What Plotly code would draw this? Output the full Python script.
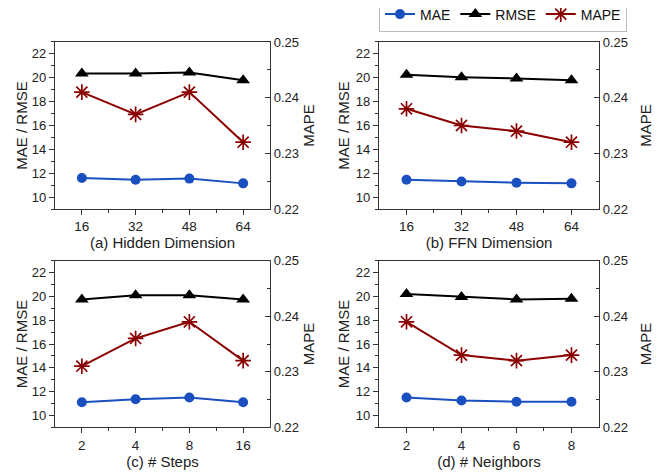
import plotly.graph_objects as go

# ---------------- data ----------------
hidden_dim = [16, 32, 48, 64]
hidden_mae = [11.6, 11.45, 11.55, 11.15]
hidden_rmse = [20.35, 20.35, 20.45, 19.8]
hidden_mape = [0.241, 0.237, 0.241, 0.232]

ffn_dim = [16, 32, 48, 64]
ffn_mae = [11.45, 11.3, 11.2, 11.15]
ffn_rmse = [20.25, 20.05, 19.95, 19.8]
ffn_mape = [0.238, 0.235, 0.234, 0.232]

steps = ["2", "4", "8", "16"]
steps_mae = [11.1, 11.35, 11.5, 11.1]
steps_rmse = [19.75, 20.1, 20.1, 19.75]
steps_mape = [0.231, 0.236, 0.239, 0.232]

neighbors = [2, 4, 6, 8]
neigh_mae = [11.5, 11.25, 11.15, 11.15]
neigh_rmse = [20.2, 19.95, 19.75, 19.8]
neigh_mape = [0.239, 0.233, 0.232, 0.233]

titles = ["(a) Hidden Dimension", "(b) FFN Dimension", "(c) # Steps", "(d) # Neighbors"]

# ---------------- style ----------------
FONT = "Liberation Sans, Arial, sans-serif"
BLUE = "#1a4fc0"
BLACK = "#000000"
RED = "#8b0000"
AX = "#333333"

# page body has an 8px margin, so the figure is sized to fit inside the window
W, H = 657, 465

xdoms = [[0.0715, 0.3988], [0.5647, 0.8995], [0.0715, 0.3988], [0.5647, 0.8995]]
ydoms = [[0.5677, 0.9269], [0.5677, 0.9269], [0.0983, 0.4565], [0.0983, 0.4565]]
right_standoff = [5, 13, 5, 13]
left_standoff = [0, 2, 0, 2]

steps_pos = list(range(len(steps)))
panels = [
    (hidden_dim, hidden_mae, hidden_rmse, hidden_mape, dict(range=[8, 72], tickvals=hidden_dim, minor=dict(tickvals=[24, 40, 56]))),
    (ffn_dim, ffn_mae, ffn_rmse, ffn_mape, dict(range=[8, 72], tickvals=ffn_dim, minor=dict(tickvals=[24, 40, 56]))),
    (steps_pos, steps_mae, steps_rmse, steps_mape, dict(range=[-0.5, 3.5], tickvals=steps_pos, ticktext=steps, minor=dict(tickvals=[0.5, 1.5, 2.5]))),
    (neighbors, neigh_mae, neigh_rmse, neigh_mape, dict(range=[1, 9], tickvals=neighbors, minor=dict(tickvals=[3, 5, 7]))),
]

fig = go.Figure()
layout = {}
for i, (xs, mae, rmse, mape, xopts) in enumerate(panels):
    n = i + 1
    xa = "x" if n == 1 else f"x{n}"
    yl_idx = 2 * i + 1
    yr_idx = 2 * i + 2
    yl = "y" if yl_idx == 1 else f"y{yl_idx}"
    yr = f"y{yr_idx}"
    show = (i == 0)
    fig.add_trace(go.Scatter(x=xs, y=mae, name="MAE", mode="lines+markers", xaxis=xa, yaxis=yl,
                             line=dict(color=BLUE, width=2), marker=dict(symbol="circle", size=10, color=BLUE),
                             showlegend=show, legendrank=1))
    fig.add_trace(go.Scatter(x=xs, y=rmse, name="RMSE", mode="lines+markers", xaxis=xa, yaxis=yl,
                             line=dict(color=BLACK, width=2), marker=dict(symbol="triangle-up", size=12, color=BLACK),
                             showlegend=show, legendrank=2))
    fig.add_trace(go.Scatter(x=xs, y=mape, name="MAPE", mode="lines+markers", xaxis=xa, yaxis=yr,
                             line=dict(color=RED, width=2),
                             marker=dict(symbol="asterisk-open", size=13, color=RED, line=dict(color=RED, width=1.7)),
                             showlegend=show, legendrank=3))

    xkey = "xaxis" if n == 1 else f"xaxis{n}"
    ylkey = "yaxis" if yl_idx == 1 else f"yaxis{yl_idx}"
    yrkey = f"yaxis{yr_idx}"
    minor = dict(ticks="outside", ticklen=3, tickcolor=AX, tickwidth=1, **xopts.pop("minor"))
    layout[xkey] = dict(domain=xdoms[i], anchor=yl, showline=True, linecolor=AX, linewidth=1.2, mirror=True,
                        ticks="outside", ticklen=5, tickcolor=AX, tickwidth=1.2, showgrid=False, zeroline=False,
                        automargin=False,
                        tickfont=dict(size=13.5, color="#222"), minor=minor,
                        title=dict(text=titles[i], font=dict(size=15, color="#222"), standoff=2), **xopts)
    layout[ylkey] = dict(domain=ydoms[i], anchor=xa, range=[9, 23], tickvals=[10, 12, 14, 16, 18, 20, 22],
                         showline=True, linecolor=AX, linewidth=1.2, ticks="outside", ticklen=5, tickcolor=AX,
                         tickwidth=1.2, showgrid=False, zeroline=False, tickfont=dict(size=13, color="#222"),
                         automargin=False,
                         minor=dict(ticks="outside", ticklen=3, tickcolor=AX, tickvals=[9, 11, 13, 15, 17, 19, 21, 23]),
                         title=dict(text="MAE / RMSE", font=dict(size=15, color="#222"), standoff=left_standoff[i]))
    layout[yrkey] = dict(domain=ydoms[i], anchor=xa, overlaying=yl, side="right", range=[0.22, 0.25],
                         tickvals=[0.22, 0.23, 0.24, 0.25], tickformat=".2f",
                         showline=True, linecolor=AX, linewidth=1.2, ticks="inside", ticklen=5, tickcolor=AX,
                         tickwidth=1.2, showgrid=False, zeroline=False, tickfont=dict(size=13, color="#222"),
                         automargin=False,
                         minor=dict(ticks="inside", ticklen=3, tickcolor=AX, tickvals=[0.225, 0.235, 0.245]),
                         title=dict(text="MAPE", font=dict(size=15, color="#222"), standoff=right_standoff[i]))

fig.update_layout(
    width=W, height=H,
    margin=dict(l=0, r=0, t=0, b=0, autoexpand=False),
    paper_bgcolor="white", plot_bgcolor="white",
    font=dict(family=FONT, color="#222"),
    legend=dict(orientation="h", x=0.7534, y=0.986, xanchor="center", yanchor="middle",
                bordercolor="#bbbbbb", borderwidth=1, font=dict(size=14, color="#111"),
                itemwidth=30, tracegroupgap=0, bgcolor="white"),
    **layout,
)

fig.write_html("out.html")
